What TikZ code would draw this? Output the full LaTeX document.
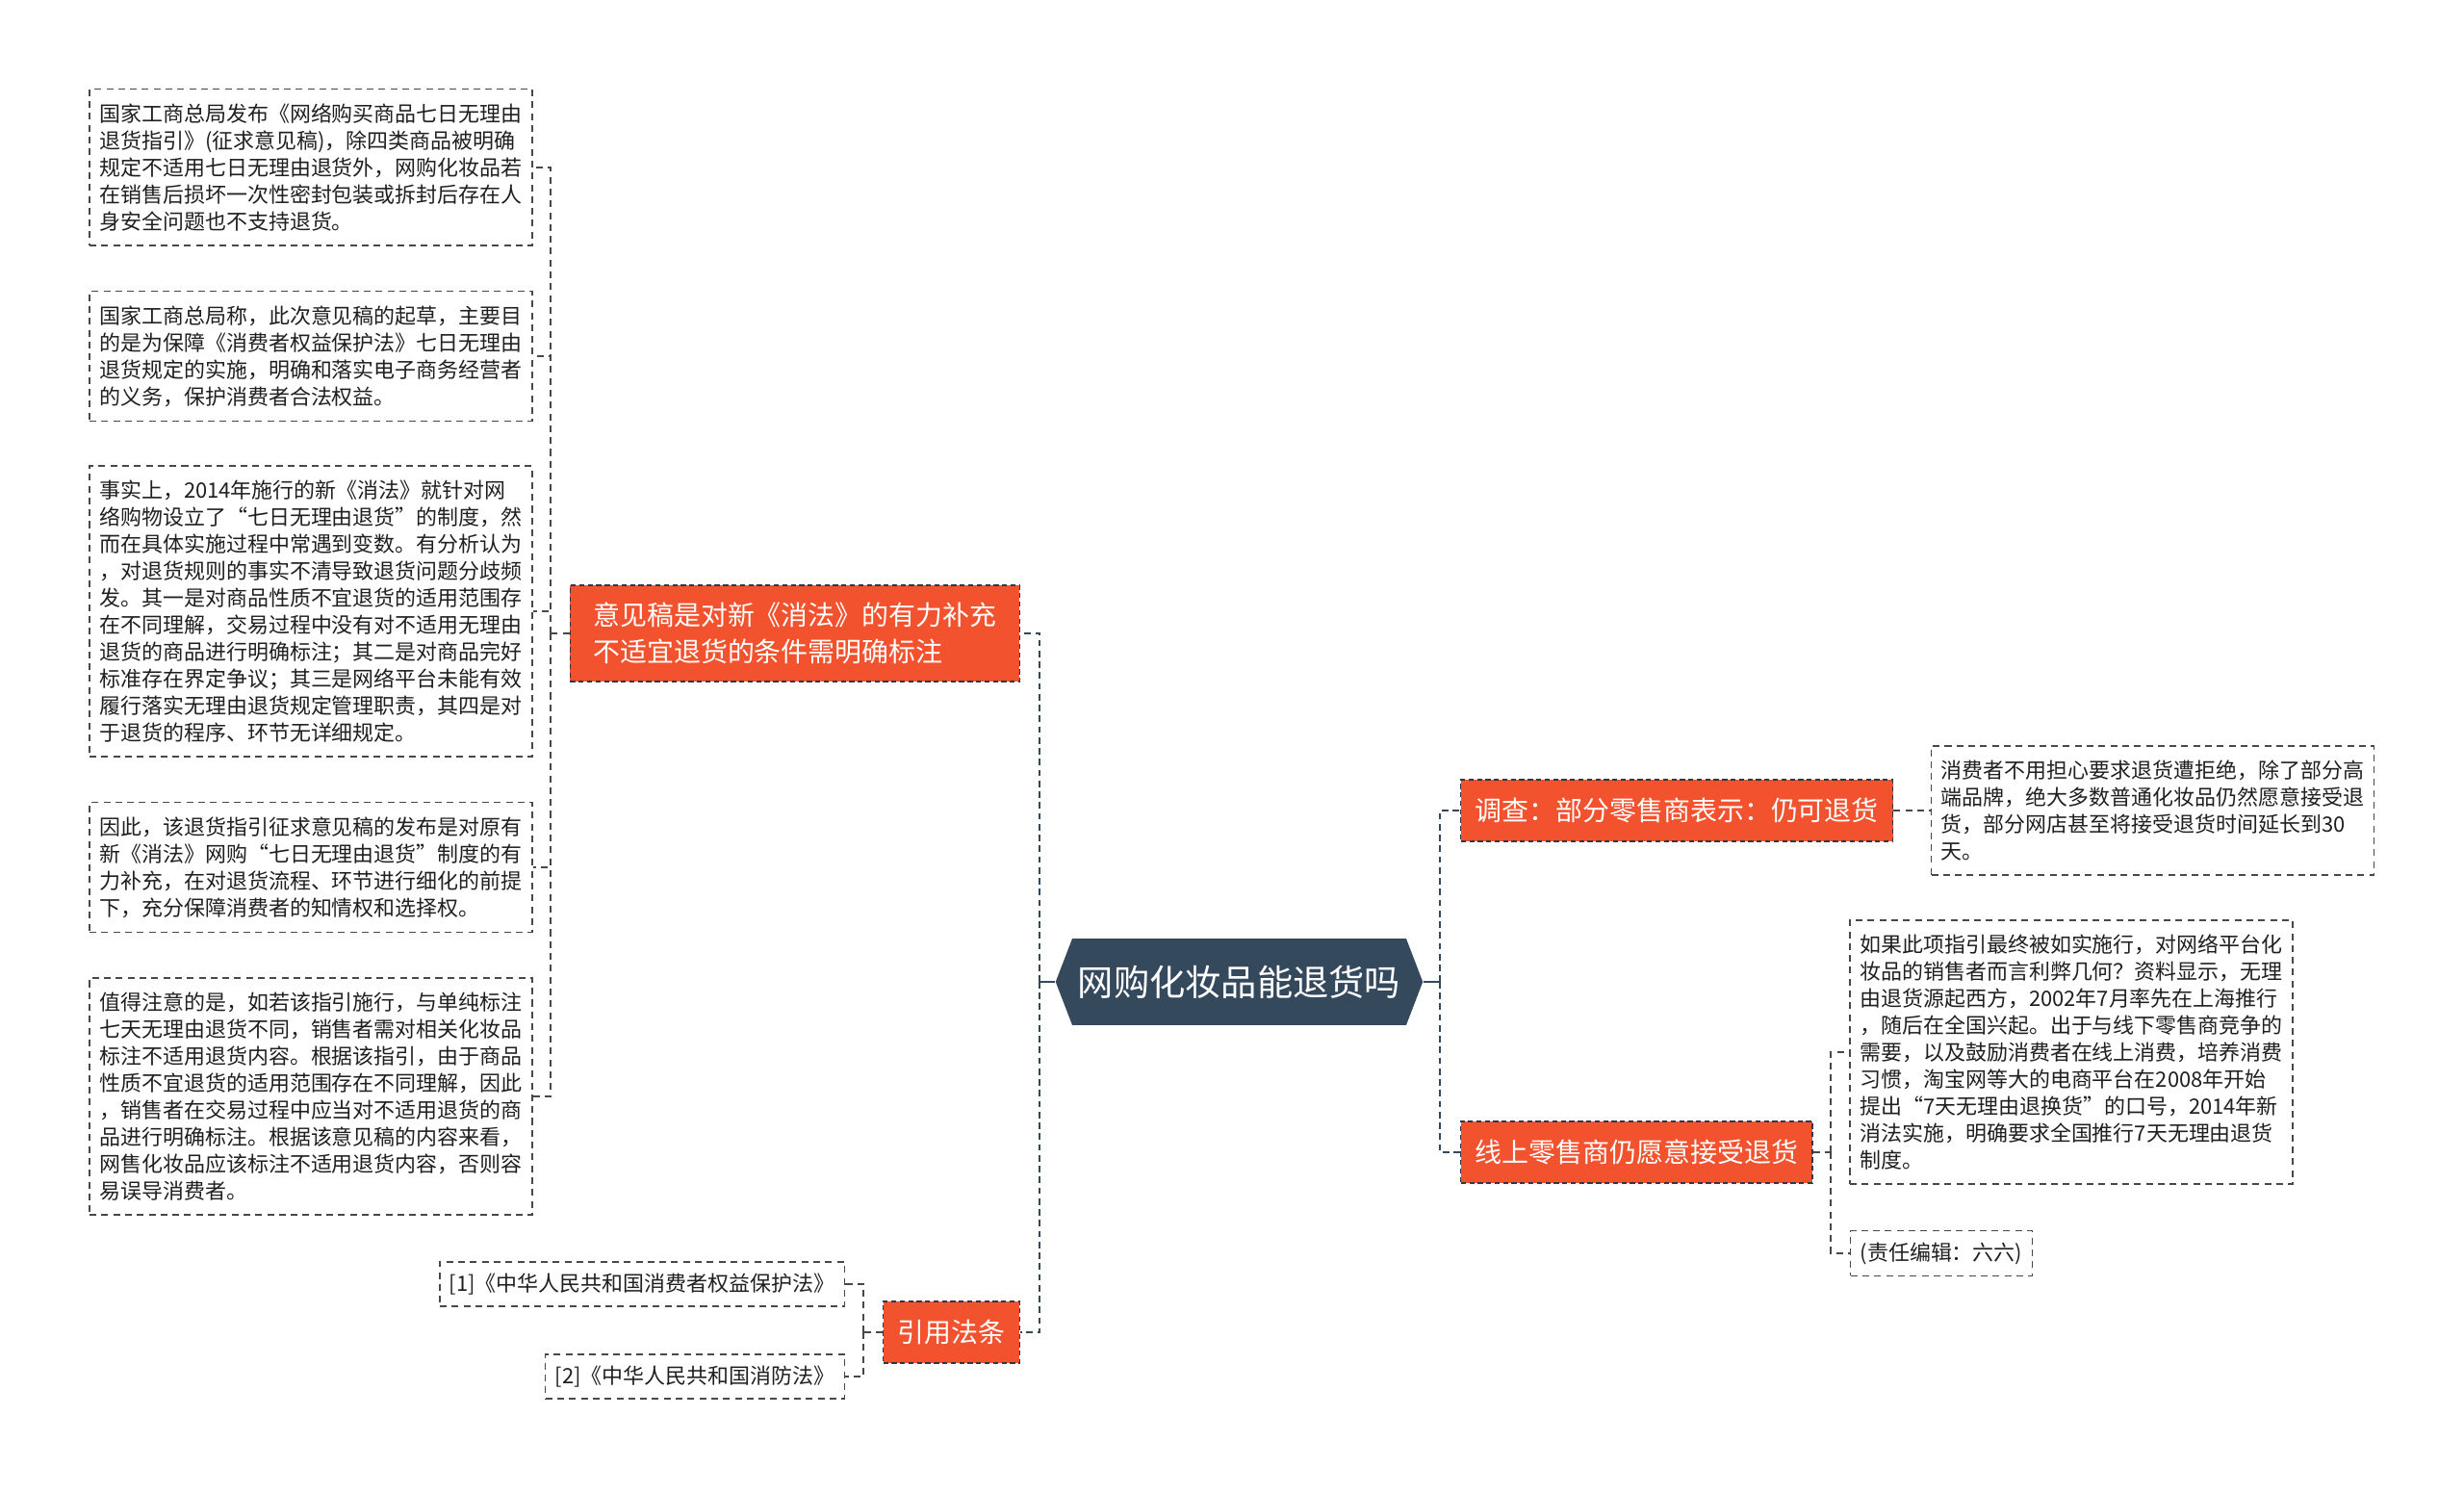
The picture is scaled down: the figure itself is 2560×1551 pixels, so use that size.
\documentclass[tikz,border=0pt]{standalone}
\usepackage{fontspec}
\setmainfont{Noto Sans CJK SC}
\usetikzlibrary{positioning,shapes.symbols}
\definecolor{treeorange}{RGB}{242,82,46}
\definecolor{rootblue}{RGB}{53,73,93}
\definecolor{linkgray}{RGB}{72,72,72}
\tikzset{
  leafbox/.style={draw=linkgray, line width=0.8pt, dash pattern=on 4pt off 3pt,
    align=left, inner xsep=0.2cm, inner ysep=0.3cm, text=black!88,
    font=\fontsize{12.5pt}{15.9pt}\selectfont},
  topicbox/.style={fill=treeorange, draw=rootblue!80!black, line width=0.8pt,
    dash pattern=on 3pt off 2pt, text=white, align=left, inner xsep=0.3cm,
    minimum height=1.28cm, font=\fontsize{15.9pt}{21.3pt}\selectfont},
  rootbox/.style={shape=signal, signal to=east and west, signal pointer angle=138,
    fill=rootblue, text=white, minimum width=7.58cm, minimum height=1.8cm,
    font=\fontsize{21.2pt}{26pt}\selectfont},
  link/.style={draw=linkgray, line width=0.8pt, dash pattern=on 4pt off 3pt},
  spine/.style={draw=rootblue, line width=1.5pt, dash pattern=on 3.8pt off 2.6pt},
  trunk/.style={draw=rootblue, line width=1.5pt},
}

\begin{document}
\begin{tikzpicture}[x=0.02cm, y=-0.02cm]
    \useasboundingbox (0,0) rectangle (2560,1551);

    %%%%%%%%%%%%%%%%%%
    %%%%% Root %%%%%
    %%%%%%%%%%%%%%%%%%
    \node[rootbox] (root) at (1287.5,1020) {网购化妆品能退货吗};

    \coordinate (lsp) at (1080,1020);
    \coordinate (rsp) at (1496,1020);

    %%%%%%%%%%%%%%%%%%
    %%%%% Left %%%%%
    %%%%%%%%%%%%%%%%%%
    \node[topicbox, anchor=east, minimum width=9.34cm, minimum height=2cm] (yjg) at (1060,658)
      {意见稿是对新《消法》的有力补充\\不适宜退货的条件需明确标注};

    % The five notes
    \node[leafbox, minimum width=9.2cm] (Y1) at (323,174)
      {国家工商总局发布《网络购买商品七日无理由\\
       退货指引》(征求意见稿)，除四类商品被明确\\
       规定不适用七日无理由退货外，网购化妆品若\\
       在销售后损坏一次性密封包装或拆封后存在人\\
       身安全问题也不支持退货。};
    \node[leafbox, minimum width=9.2cm] (Y2) at (323,370)
      {国家工商总局称，此次意见稿的起草，主要目\\
       的是为保障《消费者权益保护法》七日无理由\\
       退货规定的实施，明确和落实电子商务经营者\\
       的义务，保护消费者合法权益。};
    \node[leafbox, minimum width=9.2cm] (Y3) at (323,635)
      {事实上，2014年施行的新《消法》就针对网\\
       络购物设立了“七日无理由退货”的制度，然\\
       而在具体实施过程中常遇到变数。有分析认为\\
       ，对退货规则的事实不清导致退货问题分歧频\\
       发。其一是对商品性质不宜退货的适用范围存\\
       在不同理解，交易过程中没有对不适用无理由\\
       退货的商品进行明确标注；其二是对商品完好\\
       标准存在界定争议；其三是网络平台未能有效\\
       履行落实无理由退货规定管理职责，其四是对\\
       于退货的程序、环节无详细规定。};
    \node[leafbox, minimum width=9.2cm] (Y4) at (323,901)
      {因此，该退货指引征求意见稿的发布是对原有\\
       新《消法》网购“七日无理由退货”制度的有\\
       力补充，在对退货流程、环节进行细化的前提\\
       下，充分保障消费者的知情权和选择权。};
    \node[leafbox, minimum width=9.2cm] (Y5) at (323,1139)
      {值得注意的是，如若该指引施行，与单纯标注\\
       七天无理由退货不同，销售者需对相关化妆品\\
       标注不适用退货内容。根据该指引，由于商品\\
       性质不宜退货的适用范围存在不同理解，因此\\
       ，销售者在交易过程中应当对不适用退货的商\\
       品进行明确标注。根据该意见稿的内容来看，\\
       网售化妆品应该标注不适用退货内容，否则容\\
       易误导消费者。};

    \coordinate (lb) at (572,658);
    \draw[link] (yjg.west) -- (lb);
    \foreach \b in {Y1,Y2,Y3,Y4,Y5}
      \draw[link] (lb) |- (\b.east);

    % References
    \node[topicbox, anchor=east] (yyfl) at (1060,1384) {引用法条};
    \node[leafbox, anchor=east, inner ysep=0.24cm] (R1) at (878,1334) {[1]《中华人民共和国消费者权益保护法》};
    \node[leafbox, anchor=east, inner ysep=0.24cm] (R2) at (878,1430) {[2]《中华人民共和国消防法》};

    \coordinate (rb) at (897,1384);
    \draw[link] (yyfl.west) -- (rb);
    \draw[link] (rb) |- (R1.east);
    \draw[link] (rb) |- (R2.east);

    \draw[trunk] (root.west) -- (lsp);
    \draw[spine] (lsp) |- (yjg.east);
    \draw[spine] (lsp) |- (yyfl.east);

    %%%%%%%%%%%%%%%%%%
    %%%%% Right %%%%%
    %%%%%%%%%%%%%%%%%%
    \node[topicbox, anchor=west] (dc) at (1517,842) {调查：部分零售商表示：仍可退货};
    \node[leafbox, minimum width=9.2cm] (D1) at (2236.5,842)
      {消费者不用担心要求退货遭拒绝，除了部分高\\
       端品牌，绝大多数普通化妆品仍然愿意接受退\\
       货，部分网店甚至将接受退货时间延长到30\\
       天。};
    \draw[link] (dc.east) -- (D1.west);

    \node[topicbox, anchor=west] (xs) at (1517,1197) {线上零售商仍愿意接受退货};
    \node[leafbox, minimum width=9.2cm] (X1) at (2152,1093)
      {如果此项指引最终被如实施行，对网络平台化\\
       妆品的销售者而言利弊几何？资料显示，无理\\
       由退货源起西方，2002年7月率先在上海推行\\
       ，随后在全国兴起。出于与线下零售商竞争的\\
       需要，以及鼓励消费者在线上消费，培养消费\\
       习惯，淘宝网等大的电商平台在2008年开始\\
       提出“7天无理由退换货”的口号，2014年新\\
       消法实施，明确要求全国推行7天无理由退货\\
       制度。};
    \node[leafbox, anchor=west, inner ysep=0.24cm] (X2) at (1922,1302) {(责任编辑：六六)};

    \coordinate (xb) at (1902,1197);
    \draw[link] (xs.east) -- (xb);
    \draw[link] (xb) |- (X1.west);
    \draw[link] (xb) |- (X2.west);

    \draw[trunk] (root.east) -- (rsp);
    \draw[spine] (rsp) |- (dc.west);
    \draw[spine] (rsp) |- (xs.west);

\end{tikzpicture}
\end{document}
